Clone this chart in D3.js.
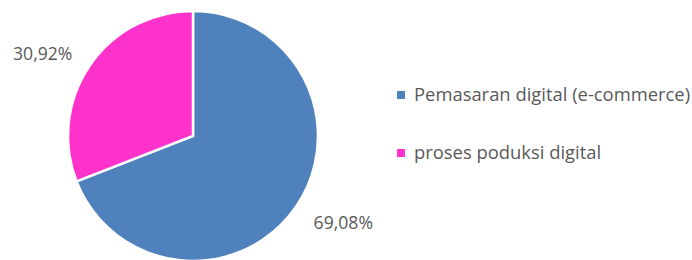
<!DOCTYPE html>
<html>
<head>
<meta charset="utf-8">
<script src="https://cdn.jsdelivr.net/npm/d3@7"></script>
<style>
  body { margin: 0; background: #fff; }
  svg text { font-family: "Open Sans", sans-serif; fill: #595959; }
</style>
</head>
<body>
<svg width="692" height="260"></svg>
<script>
var categories = ["Pemasaran digital (e-commerce)", "proses poduksi digital"];
var values = [69.08, 30.92];
var labels = ["69,08%", "30,92%"];
var colors = ["#4f81bd", "#ff33cc"];

var svg = d3.select("svg"),
    cx = 193,
    cy = 136,
    radius = 125;

var pie = d3.pie().sort(null).value(function (d) { return d; });
var arc = d3.arc().innerRadius(0).outerRadius(radius);
var arcs = pie(values);

var g = svg.append("g").attr("transform", "translate(" + cx + "," + cy + ")");

g.selectAll("path")
    .data(arcs)
    .enter()
    .append("path")
    .attr("d", arc)
    .attr("fill", function (d, i) { return colors[i]; })
    .attr("stroke", "#fff")
    .attr("stroke-width", 2.5)
    .attr("stroke-linejoin", "miter");

// outside labels, on an ellipse round the pie along the slice bisector
var labelRx = radius + 57,
    labelRy = radius + 25;
g.selectAll(".lbl")
    .data(arcs)
    .enter()
    .append("text")
    .attr("class", "lbl")
    .attr("transform", function (d) {
        var a = (d.startAngle + d.endAngle) / 2;
        return "translate(" + (Math.sin(a) * labelRx) + "," + (-Math.cos(a) * labelRy) + ")";
    })
    .attr("text-anchor", "middle")
    .attr("dy", "0.47em")
    .style("font-size", "17.6px")
    .text(function (d, i) { return labels[i]; });

// legend
var legend = svg.append("g").attr("transform", "translate(397,0)");
var ly = d3.scalePoint().domain(categories).range([95, 153]);

var item = legend.selectAll(".item")
    .data(categories)
    .enter()
    .append("g")
    .attr("class", "item")
    .attr("transform", function (d) { return "translate(0," + ly(d) + ")"; });

item.append("rect")
    .attr("x", 0)
    .attr("y", -4)
    .attr("width", 8)
    .attr("height", 8)
    .attr("fill", function (d, i) { return colors[i]; });

item.append("text")
    .attr("x", 17)
    .attr("dy", "0.35em")
    .style("font-size", "18.4px")
    .text(function (d) { return d; });
</script>
</body>
</html>
